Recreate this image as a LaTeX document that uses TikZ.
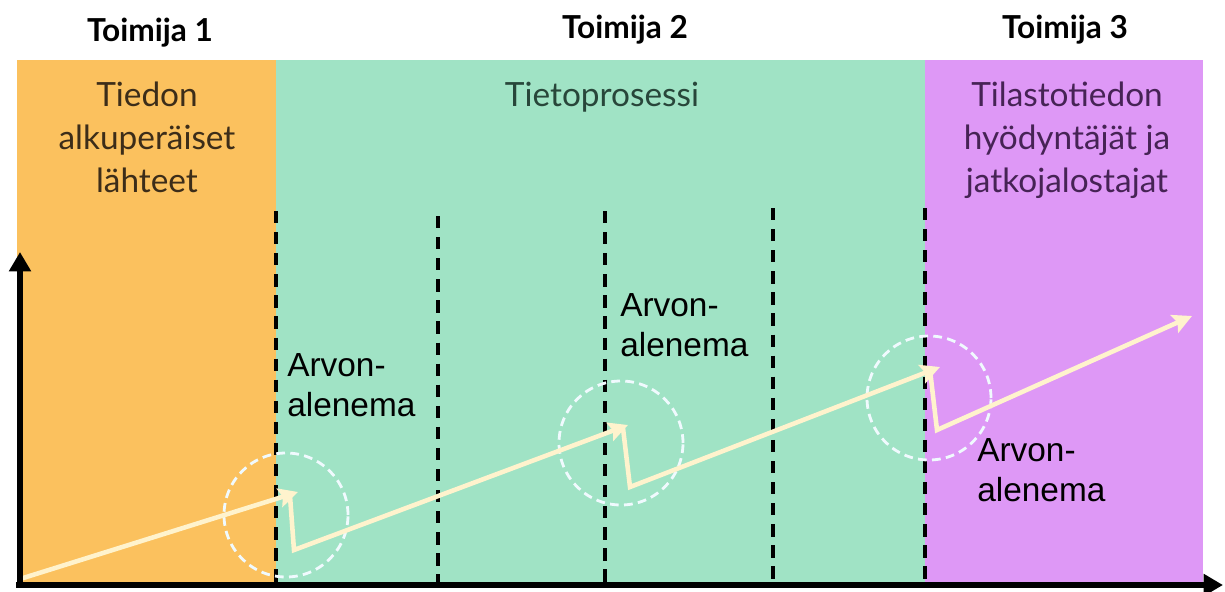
\documentclass[tikz,border=0pt]{standalone}
\usepackage{fontspec}
\setmainfont{Lato}
\newfontfamily\arial{Liberation Sans}
\usetikzlibrary{arrows.meta}
\definecolor{cOrange}{RGB}{251,193,94}
\definecolor{cGreen}{RGB}{160,227,197}
\definecolor{cPurple}{RGB}{222,152,246}
\definecolor{cCream}{RGB}{255,243,205}
\definecolor{tOrange}{RGB}{60,45,25}
\definecolor{tGreen}{RGB}{40,70,58}
\definecolor{tPurple}{RGB}{70,35,85}
\tikzset{
  region/.style={anchor=north west, inner sep=0pt, outer sep=0pt},
  head/.style={font=\bfseries\fontsize{18}{20}\selectfont, text=black},
  boxtext/.style={anchor=north, align=center, font=\fontsize{19}{24.4}\selectfont},
  drop/.style={font=\arial\fontsize{19}{22.7}\selectfont, align=left, anchor=north west, inner sep=0pt},
  sep/.style={black, line width=2.1pt, dash pattern=on 7pt off 5pt},
  ring/.style={draw=white!94!cyan, line width=1.6pt, dash pattern=on 5pt off 3pt},
  val/.style={cCream, line width=2.6pt, line join=miter},
  valarrow/.style={val, -{Stealth[length=11pt,width=11pt,inset=2pt]}},
  axis/.style={black, line width=3.2pt, -{Triangle[length=11pt,width=12pt]}}
}
\begin{document}
\begin{tikzpicture}[x=0.02cm,y=-0.02cm]
\useasboundingbox (0,0) rectangle (1225,592);
% regions
\node[region, fill=cOrange, minimum width=259*0.02cm, minimum height=522*0.02cm] (r1) at (17,60) {};
\node[region, fill=cGreen, minimum width=649*0.02cm, minimum height=522*0.02cm] (r2) at (276,60) {};
\node[region, fill=cPurple, minimum width=278*0.02cm, minimum height=522*0.02cm] (r3) at (925,60) {};
% headers
\node[head] (h1) at (150,33) {Toimija 1};
\node[head] (h2) at (625,30) {Toimija 2};
\node[head] (h3) at (1065,30) {Toimija 3};
% region texts
\node[boxtext, text=tOrange] (t1) at (147,76) {Tiedon\\alkuperäiset\\lähteet};
\node[boxtext, text=tGreen] (t2) at (602,76) {Tietoprosessi};
\node[boxtext, text=tPurple] (t3) at (1067,76) {Tilastotiedon\\hyödyntäjät ja\\jatkojalostajat};
% separators
\coordinate (s1t) at (276,211); \coordinate (s1b) at (276,582);
\coordinate (s2t) at (438,216); \coordinate (s2b) at (438,582);
\coordinate (s3t) at (605,211); \coordinate (s3b) at (605,582);
\coordinate (s4t) at (773,208); \coordinate (s4b) at (773,582);
\coordinate (s5t) at (925,208); \coordinate (s5b) at (925,582);
\foreach \i in {1,...,5} \draw[sep] (s\i t) -- (s\i b);
% rings
\node[ring, circle, minimum size=124*0.02cm] (c1) at (286,515) {};
\node[ring, circle, minimum size=124*0.02cm] (c2) at (621,443) {};
\node[ring, circle, minimum size=124*0.02cm] (c3) at (929,398) {};
% value line
\coordinate (a0) at (20,579);
\coordinate (a1) at (298,492);
\coordinate (b0) at (290,496);
\coordinate (b1) at (294,550);
\coordinate (a2) at (628,425);
\coordinate (d0) at (623,428);
\coordinate (d1) at (630,487);
\coordinate (a3) at (940,367);
\coordinate (e0) at (930,370);
\coordinate (e1) at (937,430);
\coordinate (a4) at (1192,316);
\draw[valarrow] (a0) -- (a1);
\draw[valarrow] (b0) -- (b1) -- (a2);
\draw[valarrow] (d0) -- (d1) -- (a3);
\draw[valarrow] (e0) -- (e1) -- (a4);
% labels
\node[drop] (l1) at (287,353) {Arvon-\\alenema};
\node[drop] (l2) at (620,293) {Arvon-\\alenema};
\node[drop] (l3) at (977,438) {Arvon-\\alenema};
% axes
\coordinate (o) at (20,585);
\coordinate (xe) at (1223,585);
\coordinate (ye) at (20,252);
\coordinate (o2) at (16,585);
\draw[axis] (o2) -- (xe);
\draw[axis] (o) -- (ye);
\end{tikzpicture}
\end{document}
